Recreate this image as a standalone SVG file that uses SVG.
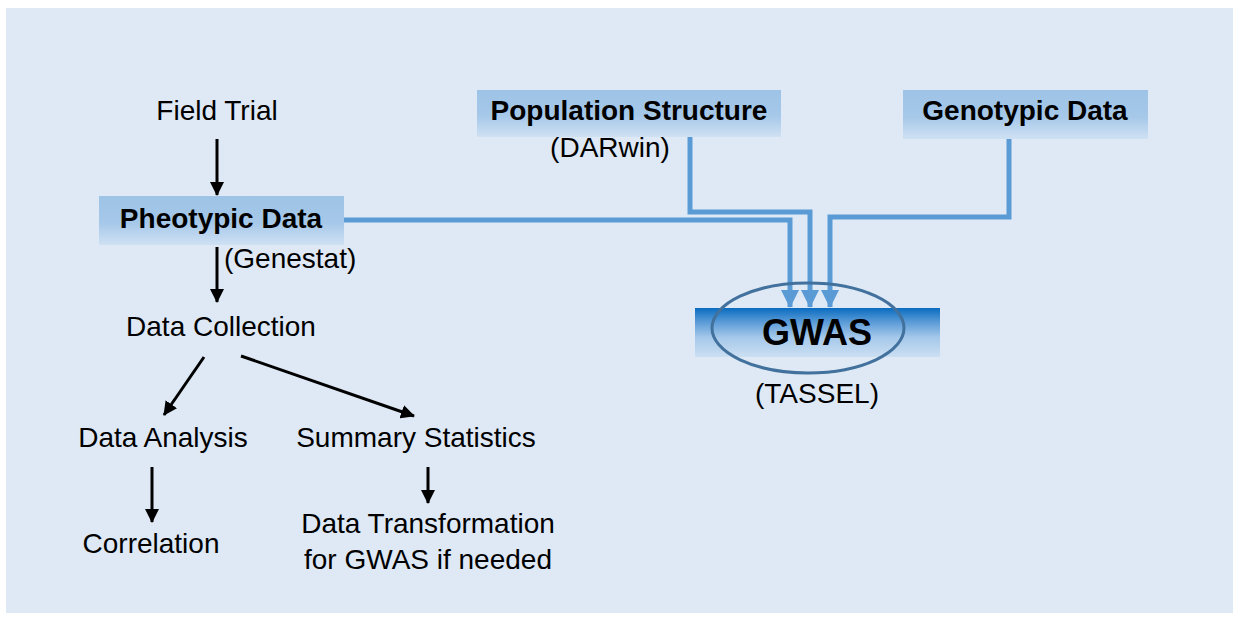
<svg xmlns="http://www.w3.org/2000/svg" width="1233" height="621" viewBox="0 0 1233 621">
<defs>
<linearGradient id="boxGrad" x1="0" y1="0" x2="0" y2="1">
<stop offset="0" stop-color="#9dc3e6"/>
<stop offset="0.55" stop-color="#a6c8e9"/>
<stop offset="1" stop-color="#cfe1f3"/>
</linearGradient>
<linearGradient id="gwasGrad" x1="0" y1="0" x2="0" y2="1">
<stop offset="0" stop-color="#0a6cc0"/>
<stop offset="0.3" stop-color="#5e9dd8"/>
<stop offset="0.6" stop-color="#a5c8ea"/>
<stop offset="1" stop-color="#cbdff2"/>
</linearGradient>
<marker id="blackArrow" markerUnits="userSpaceOnUse" markerWidth="14" markerHeight="14" viewBox="0 0 14 14" refX="13" refY="7" orient="auto">
<path d="M0,0 L14,7 L0,14 z" fill="#000"/>
</marker>
<marker id="blueArrow" markerUnits="userSpaceOnUse" markerWidth="18" markerHeight="18" viewBox="0 0 18 18" refX="17" refY="9" orient="auto">
<path d="M0,0 L18,9 L0,18 z" fill="#5b9bd5"/>
</marker>
</defs>
<style>
text{font-family:"Liberation Sans",Arial,sans-serif;fill:#000;}
.t{font-size:28px;}
.b{font-size:28px;font-weight:bold;}
.g{font-size:36px;font-weight:bold;}
.blk{stroke:#000;stroke-width:3;fill:none;marker-end:url(#blackArrow);}
.blu{stroke:#5b9bd5;stroke-width:5;fill:none;marker-end:url(#blueArrow);}
</style>
<rect x="6" y="8" width="1227" height="605" fill="#dee9f5"/>

<g id="connectors">
<line class="blk" x1="217" y1="139" x2="217" y2="195"/>
<line class="blk" x1="217" y1="247" x2="217" y2="302"/>
<line class="blk" x1="204" y1="357" x2="164" y2="415"/>
<line class="blk" x1="241" y1="356" x2="414" y2="416"/>
<line class="blk" x1="152" y1="467" x2="152" y2="522"/>
<line class="blk" x1="428" y1="467" x2="428" y2="503"/>
<polyline class="blu" points="344,220 790,220 790,307"/>
<polyline class="blu" points="690,120 690,212 810,212 810,307"/>
<polyline class="blu" points="1009,128 1009,217 830,217 830,307"/>
</g>

<g id="field-trial"><text class="t" x="217" y="120" text-anchor="middle">Field Trial</text></g>

<g id="pheotypic-data">
<rect x="99" y="196" width="245" height="49" fill="url(#boxGrad)"/>
<text class="b" x="221" y="228" text-anchor="middle">Pheotypic Data</text>
<text class="t" x="224" y="268">(Genestat)</text>
</g>

<g id="data-collection"><text class="t" x="221" y="336" text-anchor="middle">Data Collection</text></g>
<g id="data-analysis"><text class="t" x="163" y="447" text-anchor="middle">Data Analysis</text></g>
<g id="summary-statistics"><text class="t" x="416" y="447" text-anchor="middle">Summary Statistics</text></g>
<g id="correlation"><text class="t" x="151" y="553" text-anchor="middle">Correlation</text></g>
<g id="data-transformation">
<text class="t" x="428" y="533" text-anchor="middle">Data Transformation</text>
<text class="t" x="428" y="569" text-anchor="middle">for GWAS if needed</text>
</g>

<g id="population-structure">
<rect x="477" y="90" width="304" height="47" fill="url(#boxGrad)"/>
<text class="b" x="629" y="120" text-anchor="middle">Population Structure</text>
<text class="t" x="610" y="157" text-anchor="middle">(DARwin)</text>
</g>

<g id="genotypic-data">
<rect x="903" y="90" width="245" height="49" fill="url(#boxGrad)"/>
<text class="b" x="1025" y="120" text-anchor="middle">Genotypic Data</text>
</g>

<g id="gwas">
<rect x="695" y="308" width="245" height="49" fill="url(#gwasGrad)"/>
<ellipse cx="808" cy="328" rx="96" ry="45" fill="none" stroke="#41719c" stroke-width="3"/>
<text class="g" x="817" y="345" text-anchor="middle">GWAS</text>
<text class="t" x="817" y="403" text-anchor="middle">(TASSEL)</text>
</g>
</svg>
